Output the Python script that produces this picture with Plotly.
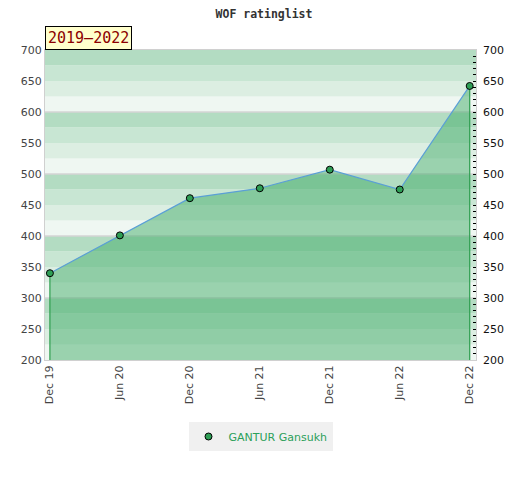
import plotly.graph_objects as go

months = ['Dec 19', 'Jun 20', 'Dec 20', 'Jun 21', 'Dec 21', 'Jun 22', 'Dec 22']
ratings = [340, 401, 461, 477, 507, 475, 642]
player = 'GANTUR Gansukh'
period = '2019–2022'
title = 'WOF ratinglist'

Y_MIN, Y_MAX = 200, 700
STRIPE_COLORS = ['#eff7f2', '#dceee2', '#c8e6d3', '#b3dcc2']  # bottom -> top in each 100 block

fig = go.Figure()

# striped background
shapes = []
for lo in range(Y_MIN, Y_MAX, 25):
    shapes.append(dict(type='rect', xref='paper', yref='y', x0=0, x1=1, y0=lo, y1=lo + 25,
                       fillcolor=STRIPE_COLORS[(lo // 25) % 4], line=dict(width=0), layer='below'))
for g in range(Y_MIN + 100, Y_MAX, 100):
    shapes.append(dict(type='line', xref='paper', yref='y', x0=0, x1=1, y0=g, y1=g,
                       line=dict(color='#d4d4d4', width=1.5), layer='below'))

# filled area under the rating line
fig.add_trace(go.Scatter(
    x=months + [months[-1], months[0]],
    y=ratings + [Y_MIN, Y_MIN],
    fill='toself', fillcolor='rgba(60,170,100,0.48)',
    mode='none', showlegend=False, hoverinfo='skip'))

# green edges at both ends
fig.add_trace(go.Scatter(
    x=[months[0], months[0], None, months[-1], months[-1]],
    y=[Y_MIN, ratings[0], None, Y_MIN, ratings[-1]],
    mode='lines', line=dict(color='#2e9e4f', width=1.2),
    showlegend=False, hoverinfo='skip'))

fig.add_trace(go.Scatter(
    x=months, y=ratings, name=player, mode='lines+markers', showlegend=False,
    line=dict(color='#5a9fd6', width=1.2),
    marker=dict(size=7, color='#2e9e55', line=dict(color='black', width=1))))

# right hand axis copy
fig.add_trace(go.Scatter(
    x=months, y=ratings, yaxis='y2', mode='lines', opacity=0,
    showlegend=False, hoverinfo='skip'))

# legend entry (marker only)
fig.add_trace(go.Scatter(
    x=[None], y=[None], name=player, mode='markers',
    marker=dict(size=7, color='#2e9e55', line=dict(color='black', width=1))))

fig.add_annotation(
    text=period, xref='paper', yref='paper', x=0, y=1, xanchor='left', yanchor='bottom',
    showarrow=False, font=dict(family='DejaVu Sans Mono', size=15, color='#8b0000'),
    bgcolor='#ffffcc', bordercolor='black', borderwidth=1, borderpad=2)

# page has an 8px body margin, so the figure is 8px smaller than the window
fig.update_layout(
    width=512, height=472,
    margin=dict(l=37, r=44, t=42, b=120, autoexpand=False),
    title=dict(text='<b>' + title + '</b>', x=0.5, y=0.988, xanchor='center', yanchor='middle',
               font=dict(family='DejaVu Sans Mono', size=11.5, color='#333')),
    plot_bgcolor='white', paper_bgcolor='white',
    shapes=shapes,
    font=dict(family='DejaVu Sans', size=11, color='#444'),
    xaxis=dict(type='category', range=[-0.07, len(months) - 1 + 0.09], tickangle=-90,
               showgrid=False, zeroline=False, showline=True, linecolor='#d0d0d0', mirror=True,
               ticks='', automargin=False),
    yaxis=dict(range=[Y_MIN, Y_MAX], dtick=50, showgrid=False, zeroline=False,
               showline=True, linecolor='#d0d0d0', mirror=True, ticks='', automargin=False),
    yaxis2=dict(range=[Y_MIN, Y_MAX], dtick=50, overlaying='y', side='right',
                showgrid=False, zeroline=False, ticks='inside', ticklen=3, tickcolor='black',
                minor=dict(dtick=10, ticks='inside', ticklen=3, tickcolor='black'),
                ticklabelstandoff=6,
                tickfont=dict(color='#111'), automargin=False),
    legend=dict(orientation='h', x=0.5, xanchor='center', y=-0.2, yanchor='top',
                bgcolor='#f0f0f0', font=dict(color='#2ca05a', size=11),
                itemwidth=30, tracegroupgap=0),
)

fig.write_html('out.html')
